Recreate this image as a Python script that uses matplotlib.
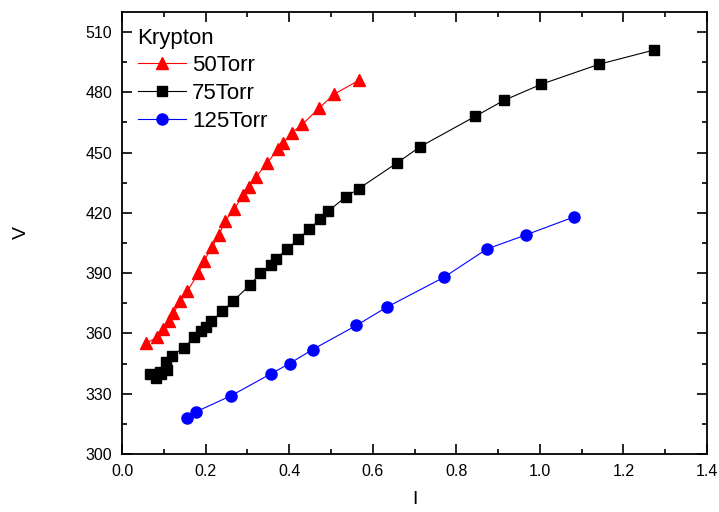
import matplotlib
matplotlib.use("Agg")
import matplotlib.pyplot as plt
from matplotlib.ticker import MultipleLocator

plt.rcParams['font.family'] = ['Liberation Sans', 'DejaVu Sans']

# 50 Torr
i_50 = [0.057, 0.083, 0.099, 0.112, 0.123, 0.139, 0.156, 0.183, 0.196, 0.215, 0.232,
        0.247, 0.269, 0.290, 0.304, 0.321, 0.348, 0.374, 0.386, 0.407, 0.431, 0.471,
        0.507, 0.567]
v_50 = [355, 358, 362, 366, 370, 376, 381, 390, 396, 403, 409,
        416, 422, 429, 433, 438, 445, 452, 455, 460, 464, 472,
        479, 486]

# 75 Torr
i_75 = [0.067, 0.081, 0.090, 0.094, 0.107, 0.105, 0.120, 0.148, 0.173, 0.190, 0.200,
        0.213, 0.240, 0.265, 0.306, 0.331, 0.356, 0.368, 0.395, 0.422, 0.448, 0.475,
        0.494, 0.536, 0.566, 0.659, 0.714, 0.845, 0.914, 1.003, 1.142, 1.272]
v_75 = [340, 338, 341, 340, 342, 346, 349, 353, 358, 361, 363,
        366, 371, 376, 384, 390, 394, 397, 402, 407, 412, 417,
        421, 428, 432, 445, 453, 468, 476, 484, 494, 501]

# 125 Torr
i_125 = [0.156, 0.177, 0.261, 0.357, 0.401, 0.456, 0.561, 0.633, 0.771, 0.873, 0.966, 1.082]
v_125 = [318, 321, 329, 340, 345, 352, 364, 373, 388, 402, 409, 418]

fig = plt.figure(figsize=(7.19, 5.12), dpi=100)
ax = fig.add_axes([0.1697, 0.1133, 0.8136, 0.8633])

ax.plot(i_50, v_50, color='red', lw=0.8, marker='^', ms=9, mec='red', label='50Torr')
ax.plot(i_75, v_75, color='black', lw=0.8, marker='s', ms=7, label='75Torr')
ax.plot(i_125, v_125, color='blue', lw=0.8, marker='o', ms=8, label='125Torr')

ax.set_xlim(0, 1.4)
ax.set_ylim(300, 520)
ax.xaxis.set_major_locator(MultipleLocator(0.2))
ax.xaxis.set_minor_locator(MultipleLocator(0.1))
ax.yaxis.set_minor_locator(MultipleLocator(15))
ax.set_yticks([300, 330, 360, 390, 420, 450, 480, 510])
ax.xaxis.set_major_formatter(plt.FormatStrFormatter('%.1f'))

ax.tick_params(which='both', direction='in', top=True, right=True, labelsize=11.5, width=1.2, pad=7)
ax.tick_params(which='major', length=7)
ax.tick_params(which='minor', length=3.5)
for s in ax.spines.values():
    s.set_linewidth(1.3)

ax.set_xlabel('I', fontsize=14, labelpad=9)
ax.set_ylabel('V', fontsize=14, labelpad=40)

leg = ax.legend(title='Krypton', loc='upper left', frameon=False, fontsize=16,
                title_fontsize=16, handlelength=2.2, handletextpad=0.25,
                labelspacing=0.3, borderaxespad=0.4, borderpad=0.3)
leg._legend_box.align = 'left'

fig.savefig('out.png', dpi=100)
